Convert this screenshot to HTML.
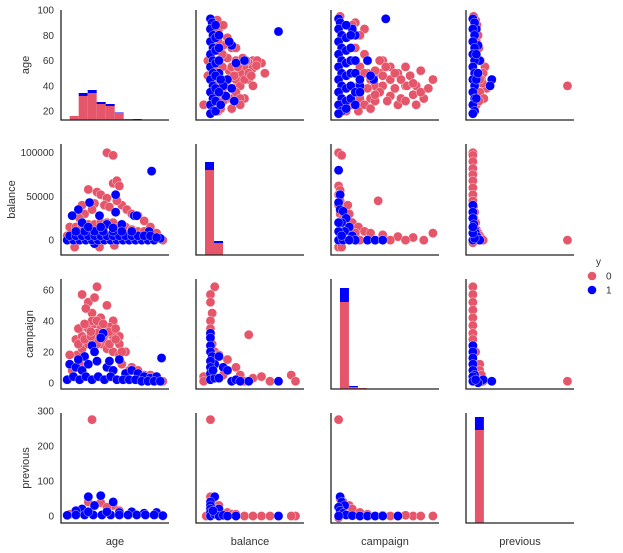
<!DOCTYPE html>
<html><head><meta charset="utf-8"><style>
html,body{margin:0;padding:0;background:#fff}
svg{display:block;font-family:"Liberation Sans",sans-serif}
</style></head><body>
<svg id="chart" width="623" height="553" viewBox="0 0 623 553" xmlns="http://www.w3.org/2000/svg"></svg>
<script>
const variables=["age","balance","campaign","previous"];
const limits=[[13,100],[-17000,110000],[-4,67],[-20,294]];
const yTicks=[[20,40,60,80,100],[0,50000,100000],[0,20,40,60],[0,100,200,300]];
const classes=["0","1"];
// histograms (diagonal): bin edges and stacked counts
const histEdges=[
 [20,27.25,34.5,41.75,49,56.25,63.5,70.75,78],
 [-6400,4200,14800,25400,36000,46600],
 [1.9,7.8,13.7,19.6],
 [6,32]];
const histRed=[[160,960,1080,640,560,280,40,0],[3400,480,20,20,20],[3480,80,40],[3720]];
const histBlue=[[0,120,120,80,80,20,0,40],[320,80,0,0,0],[560,40,0],[520]];
// scatter points per panel "row-col": [x,y] with x = column variable, y = row variable
const red={
"0-1":[[-8000,25],[-3000,60],[-3000,48],[60000,58],[64000,50],[50000,60],[45000,58],[40000,55],[35000,50],[30000,45],[28000,38],[20000,62],[25000,70],[15000,72],[35000,40],[45000,45],[40000,30],[30000,60],[22000,52],[18000,40],[12000,30],[10000,85],[8000,92],[20000,30],[50000,54],[38000,62],[9000,20],[9000,28],[9000,36],[9000,44],[9000,52],[9000,60],[9000,68],[9000,76],[9000,84],[14000,35],[14000,45],[14000,55],[14000,65],[20000,45],[25000,55],[15000,28],[25000,30],[30000,35],[35000,30],[40000,45],[45000,50],[50000,40],[55000,60],[30000,70],[20000,78],[15000,88],[12000,22],[25000,22],[35000,25],[28000,48],[32000,55],[42000,60],[48000,48],[54000,56]],
"0-2":[[63,45],[57,30],[50,33],[45,55],[40,25],[35,55],[30,60],[28,50],[25,40],[22,30],[18,85],[15,80],[12,90],[10,88],[20,50],[30,40],[35,45],[45,40],[40,50],[15,30],[20,60],[25,28],[30,48],[38,38],[42,30],[48,48],[52,40],[55,52],[12,70],[18,65],[22,45],[14,40],[10,25],[6,20],[2,95],[1,18],[28,60],[32,55],[38,50],[42,45],[46,40],[50,42],[55,35],[60,38],[35,32],[28,35],[20,38],[25,33],[33,28],[45,28],[52,25],[18,25],[14,20],[22,22],[15,55],[18,50],[25,52]],
"0-3":[[275,40],[35,55],[30,50],[40,38],[25,45],[22,60],[18,70],[20,35],[15,80],[12,88],[10,25],[28,42],[32,30],[18,28],[8,92],[2,95],[0,18],[15,50],[20,45],[12,60],[10,75]],
"1-0":[[50,100000],[55,97000],[35,58000],[42,55000],[45,52000],[50,48000],[55,65000],[58,68000],[60,62000],[40,42000],[30,40000],[48,40000],[62,40000],[66,35000],[70,30000],[75,28000],[52,38000],[32,30000],[28,25000],[38,35000],[44,28000],[58,45000],[24,-8000],[44,-8000],[56,-6000],[85,15000],[90,8000],[80,22000],[20,15000],[25,15000],[30,15000],[35,18000],[40,18000],[45,20000],[50,20000],[55,20000],[60,15000],[65,15000],[70,12000],[75,10000],[80,10000],[95,0],[18,5000]],
"1-2":[[1,100000],[3,97000],[1,62000],[2,57000],[1,52000],[2,45000],[1,40000],[3,35000],[2,30000],[7,40000],[4,25000],[8,30000],[27,45000],[10,20000],[14,15000],[18,10000],[22,8000],[30,6000],[40,4000],[50,3000],[63,8000],[57,0],[45,0],[35,0],[25,0],[15,0],[1,-8000],[3,-8000],[6,12000],[12,8000]],
"1-3":[[0,100000],[0,97000],[0,90000],[0,82000],[0,75000],[0,68000],[0,60000],[0,52000],[0,45000],[2,38000],[5,32000],[3,25000],[8,20000],[10,12000],[15,8000],[20,5000],[25,2000],[30,0],[275,0],[0,-3000]],
"2-0":[[30,57],[42,62],[35,52],[50,50],[38,45],[45,42],[55,40],[28,35],[60,30],[65,20],[70,10],[80,5],[90,3],[33,48],[40,55],[26,18],[25,28],[30,30],[35,35],[40,38],[45,35],[50,32],[55,30],[60,25],[30,22],[35,25],[40,28],[45,25],[50,22],[55,20],[60,18],[62,12],[68,8],[75,8],[85,5],[95,1],[20,18],[22,8],[28,12],[48,30],[52,36],[42,32],[38,40],[27,25],[32,28],[37,30],[42,25],[47,28],[52,25],[57,28],[27,35],[32,38],[37,33],[42,40],[47,38],[52,33],[57,35],[62,20]],
"2-1":[[5000,62],[0,57],[0,52],[2000,45],[0,40],[0,35],[0,30],[2000,25],[5000,20],[10000,18],[20000,15],[30000,10],[45000,31],[35000,5],[50000,3],[60000,4],[95000,5],[100000,1],[40000,1],[25000,1],[-8000,4],[-8000,1],[70000,1],[15000,5]],
"2-3":[[0,62],[0,57],[0,52],[0,47],[0,42],[0,37],[0,32],[0,28],[0,24],[8,20],[20,12],[20,8],[25,5],[275,1],[10,3],[30,1]],
"3-0":[[38,275],[35,40],[45,38],[55,30],[30,20],[40,30],[50,25],[60,15],[70,10],[80,8],[90,5],[25,10],[20,5],[95,0]],
"3-1":[[0,275],[0,55],[2000,40],[10000,30],[5000,20],[20000,10],[40000,0],[60000,0],[80000,0],[100000,0],[95000,0],[50000,0],[70000,0],[25000,5],[-5000,0],[30000,5]],
"3-2":[[1,275],[2,50],[4,40],[8,30],[10,20],[15,10],[20,5],[30,2],[40,0],[50,0],[55,0],[63,0],[45,2],[35,0],[25,0],[1,-5]],
"0-0":[],"1-1":[],"2-2":[],"3-3":[]
};
const blue={
"0-1":[[80000,83],[40000,60],[30000,58],[25000,72],[22000,75],[20000,45],[25000,38],[18000,32],[28000,28],[15000,40],[10000,50],[0,93],[2000,90],[0,85],[3000,80],[0,75],[3000,70],[0,65],[3000,60],[0,55],[3000,50],[0,45],[3000,40],[0,35],[3000,30],[0,25],[3000,20],[0,18],[6000,88],[6000,78],[6000,68],[6000,58],[6000,48],[6000,38],[6000,28],[6000,20],[10000,70],[10000,35],[12000,25],[10000,80],[10000,60],[12000,45]],
"0-2":[[32,93],[24,45],[22,48],[15,40],[20,60],[12,80],[10,85],[1,93],[2,90],[1,85],[3,80],[1,75],[3,70],[1,65],[3,60],[1,55],[3,50],[1,45],[3,40],[1,35],[3,30],[1,25],[3,20],[1,18],[6,88],[6,78],[6,68],[6,58],[6,48],[6,38],[6,28],[6,22],[9,70],[9,60],[9,50],[9,40],[9,30],[12,35],[12,50],[15,45],[12,60],[9,80],[12,25],[15,35]],
"0-3":[[55,45],[50,40],[20,60],[15,72],[10,85],[0,93],[5,90],[0,85],[5,80],[0,75],[5,70],[0,65],[5,60],[0,55],[5,50],[0,45],[5,40],[0,35],[5,30],[0,25],[5,20],[0,18],[10,65],[10,45],[10,30],[15,50]],
"1-0":[[86,79000],[57,52000],[36,43000],[27,35000],[57,32000],[22,28000],[44,28000],[72,28000],[74,28000],[30,20000],[50,18000],[62,18000],[84,10000],[93,2000],[40,-4000],[18,0],[23,0],[28,0],[33,0],[38,0],[43,0],[48,0],[53,0],[58,0],[63,0],[68,0],[73,0],[78,0],[83,0],[88,0],[20,5000],[25,5000],[30,5000],[35,5000],[40,5000],[45,5000],[50,5000],[55,5000],[60,5000],[65,5000],[70,5000],[75,5000],[80,5000],[85,5000],[90,3000],[25,10000],[32,10000],[40,10000],[47,10000],[55,10000],[62,10000],[70,10000],[35,15000],[45,15000],[55,14000]],
"1-2":[[1,80000],[2,52000],[1,43000],[2,35000],[4,33000],[6,25000],[3,20000],[8,15000],[5,10000],[10,5000],[12,0],[20,0],[25,0],[30,0],[1,0],[4,0],[8,0],[1,10000],[1,20000],[3,5000]],
"1-3":[[0,40000],[0,32000],[0,25000],[3,18000],[5,12000],[8,8000],[12,4000],[20,0],[0,0],[5,2000],[0,8000],[0,15000]],
"2-0":[[94,16],[38,24],[47,32],[45,29],[32,17],[60,15],[20,12],[40,20],[25,10],[30,8],[35,12],[50,10],[55,8],[65,6],[70,8],[75,6],[80,4],[85,3],[90,4],[18,2],[23,4],[28,2],[33,4],[38,2],[43,4],[48,2],[53,4],[58,2],[63,2],[68,2],[73,2],[78,1],[83,1],[88,1],[93,1],[27,15],[42,14],[52,14]],
"2-1":[[80000,1],[45000,1],[25000,1],[0,32],[0,29],[0,24],[0,20],[2000,17],[10000,17],[5000,12],[15000,10],[20000,8],[30000,2],[35000,1],[0,14],[0,10],[0,6],[0,2],[5000,3],[10000,3],[3000,8]],
"2-3":[[0,24],[0,20],[0,16],[0,12],[0,8],[5,5],[25,1],[30,2],[55,1],[15,0],[0,4],[0,1],[8,2]],
"3-0":[[35,55],[45,58],[55,40],[40,30],[30,20],[25,15],[60,10],[70,12],[80,8],[90,10],[18,2],[25,3],[32,3],[39,3],[46,3],[53,3],[60,3],[67,3],[74,3],[81,3],[88,3],[95,1],[35,12],[50,12]],
"3-1":[[5000,55],[0,40],[10000,20],[80000,0],[30000,0],[0,30],[0,20],[0,10],[0,0],[5000,5],[10000,0],[15000,2],[20000,0],[3000,15]],
"3-2":[[2,55],[3,40],[5,30],[1,25],[2,15],[4,8],[6,3],[10,1],[15,0],[20,0],[25,0],[30,0],[40,0],[1,0]],
"0-0":[],"1-1":[],"2-2":[],"3-3":[]
};
const colX=[[61,169],[196,304],[331,439],[466,574]];
const rowY=[[10,120],[144,255],[279,389],[413,523]];
const titleX=[29,15,33,29];
const RED="#e5566b",BLUE="#0000ff";
const svg=document.getElementById("chart");
const NS="http://www.w3.org/2000/svg";
function mk(t,a){const e=document.createElementNS(NS,t);for(const k in a)e.setAttribute(k,a[k]);return e;}
function xs(c,v){const[l,h]=limits[c];return colX[c][0]+(v-l)/(h-l)*(colX[c][1]-colX[c][0]);}
function ys(r,v){const[l,h]=limits[r];return rowY[r][1]-(v-l)/(h-l)*(rowY[r][1]-rowY[r][0]);}
const histK=0.025;
for(let r=0;r<4;r++){for(let c=0;c<4;c++){
 const g=mk("g",{});
 
 
 svg.appendChild(g);
 const bottom=rowY[r][1];
 if(r===c){
  const e=histEdges[r];
  for(let i=0;i<histRed[r].length;i++){
   const x0=xs(c,e[i]),x1=xs(c,e[i+1]);
   const hr=histRed[r][i]*histK,hb=histBlue[r][i]*histK;
   if(hr>0){const b=mk("rect",{x:x0,y:bottom-hr,width:x1-x0,height:hr,fill:RED});
    
    g.appendChild(b);}
   if(hb>0){const b=mk("rect",{x:x0,y:bottom-hr-hb,width:x1-x0,height:hb,fill:BLUE});
    
    g.appendChild(b);}
  }
 } else {
  const key=r+"-"+c;
  [[red[key],RED,"point-0"],[blue[key],BLUE,"point-1"]].forEach(([pts,col,nm])=>{
   pts.forEach(p=>{
    const cx=xs(c,p[0]),cy=ys(r,p[1]);
    const ci=mk("circle",{cx:cx,cy:cy,r:4.6,fill:col,stroke:"#fff","stroke-width":0.5,"stroke-opacity":0.7});
    
    
    g.appendChild(ci);
   });
  });
 }
 const ax=mk("path",{d:`M${colX[c][0]},${rowY[r][0]}V${bottom}H${colX[c][1]}`,fill:"none",stroke:"#222","stroke-width":1.3});
 
 
 g.appendChild(ax);
}}
for(let r=0;r<4;r++){
 yTicks[r].forEach(v=>{
  const t=mk("text",{x:54,y:ys(r,v)+3.5,"text-anchor":"end","font-size":10,fill:"#333"});
  t.textContent=v;
  
  
  svg.appendChild(t);
 });
 const cy=(rowY[r][0]+rowY[r][1])/2;
 const t=mk("text",{x:0,y:0,transform:`translate(${titleX[r]},${cy}) rotate(-90)`,"text-anchor":"middle","font-size":11,fill:"#333"});
 t.textContent=variables[r];
 
 
 svg.appendChild(t);
}
for(let c=0;c<4;c++){
 const t=mk("text",{x:(colX[c][0]+colX[c][1])/2,y:545,"text-anchor":"middle","font-size":11,fill:"#333"});
 t.textContent=variables[c];
 
 
 svg.appendChild(t);
}
const lg=mk("g",{});


svg.appendChild(lg);
const lt=mk("text",{x:596,y:265,"font-size":10,fill:"#333"});lt.textContent="y";


lg.appendChild(lt);
classes.forEach((k,i)=>{
 const cy=276+i*14;
 const d=mk("circle",{cx:592,cy:cy,r:4.3,fill:i?BLUE:RED});
 
 
 lg.appendChild(d);
 const t=mk("text",{x:606,y:cy+3.5,"font-size":10,fill:"#333"});t.textContent=k;
 
 
 lg.appendChild(t);
});
</script>
</body></html>
